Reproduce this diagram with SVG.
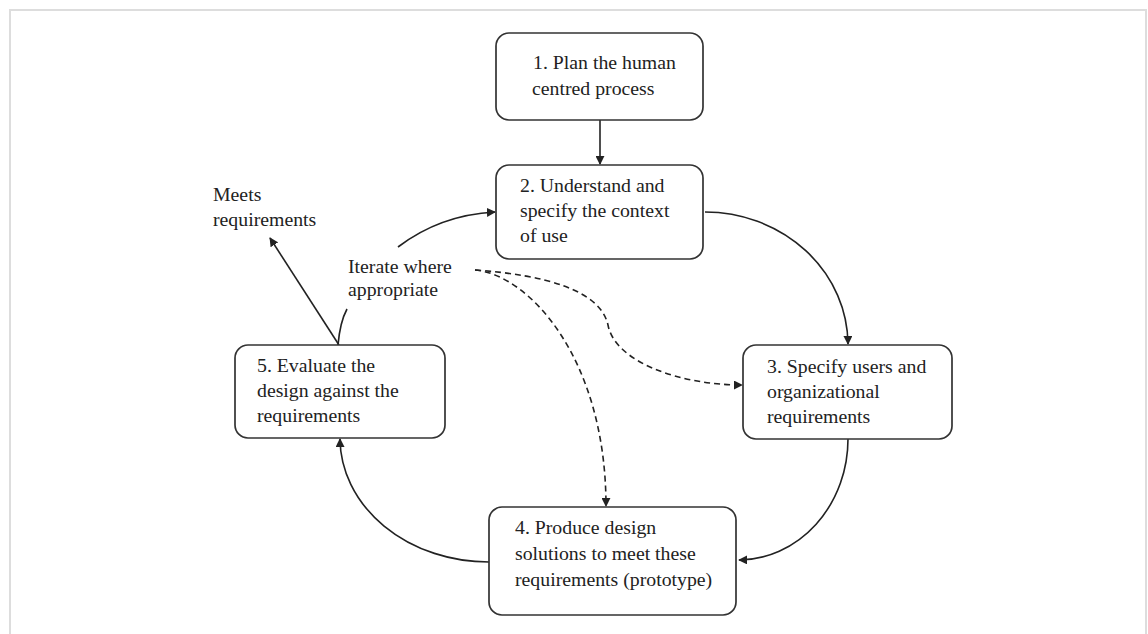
<svg xmlns="http://www.w3.org/2000/svg" width="1148" height="634" viewBox="0 0 1148 634">
  <defs>
    <style>
      .box { fill: #ffffff; stroke: #333333; stroke-width: 1.7; }
      .lbl { font-family: "Liberation Serif", "Times New Roman", Tinos, serif; font-size: 19.8px; fill: #222222; }
      .edge { fill: none; stroke: #222222; stroke-width: 1.6; }
      .dash { stroke-dasharray: 6 4; }
    </style>
    <marker id="arrow" viewBox="0 0 10 10" refX="9" refY="5" markerWidth="9" markerHeight="9" markerUnits="userSpaceOnUse" orient="auto">
      <path d="M0,0 L10,5 L0,10 z" fill="#222222"/>
    </marker>
  </defs>

  <rect x="0" y="0" width="1148" height="634" fill="#ffffff"/>
  <!-- outer frame -->
  <rect x="10" y="10" width="1136" height="640" fill="none" stroke="#dddddd" stroke-width="2"/>

  <g id="connectors">
    <line class="edge" x1="600" y1="120" x2="600" y2="164" marker-end="url(#arrow)"/>
    <path class="edge" d="M705,212 A143,133 0 0 1 848,344" marker-end="url(#arrow)"/>
    <path class="edge" d="M848,439 A110,121 0 0 1 739,560" marker-end="url(#arrow)"/>
    <path class="edge" d="M489,562 A149,124 0 0 1 340,439" marker-end="url(#arrow)"/>
    <line class="edge" x1="339" y1="345" x2="270" y2="238" marker-end="url(#arrow)"/>
    <path class="edge" d="M338,345 Q340,322 347,309"/>
    <path class="edge" d="M398,247 Q440,215 495,212" marker-end="url(#arrow)"/>
    <path class="edge dash" d="M475,270 C545,275 600,290 608,325 C615,362 680,385 742,385" marker-end="url(#arrow)"/>
    <path class="edge dash" d="M475,270 C530,275 606,360 606,506" marker-end="url(#arrow)"/>
  </g>

  <g id="node1">
    <rect class="box" x="496" y="33" width="207" height="87" rx="13"/>
    <text class="lbl" x="533" y="69">1. Plan the human</text>
    <text class="lbl" x="532" y="95">centred process</text>
  </g>

  <g id="node2">
    <rect class="box" x="496" y="165" width="207" height="94" rx="13"/>
    <text class="lbl" x="520" y="192">2. Understand and</text>
    <text class="lbl" x="520" y="217">specify the context</text>
    <text class="lbl" x="520" y="242">of use</text>
  </g>

  <g id="node3">
    <rect class="box" x="743" y="345" width="209" height="94" rx="13"/>
    <text class="lbl" x="767" y="373">3. Specify users and</text>
    <text class="lbl" x="767" y="398">organizational</text>
    <text class="lbl" x="767" y="423">requirements</text>
  </g>

  <g id="node4">
    <rect class="box" x="489" y="507" width="247" height="108" rx="13"/>
    <text class="lbl" x="515" y="534">4. Produce design</text>
    <text class="lbl" x="515" y="560">solutions to meet these</text>
    <text class="lbl" x="515" y="586">requirements (prototype)</text>
  </g>

  <g id="node5">
    <rect class="box" x="235" y="345" width="210" height="93" rx="13"/>
    <text class="lbl" x="257" y="372">5. Evaluate the</text>
    <text class="lbl" x="257" y="397">design against the</text>
    <text class="lbl" x="257" y="422">requirements</text>
  </g>

  <g id="label-meets">
    <text class="lbl" x="213" y="201">Meets</text>
    <text class="lbl" x="213" y="226">requirements</text>
  </g>

  <g id="label-iterate">
    <text class="lbl" x="348" y="273">Iterate where</text>
    <text class="lbl" x="348" y="296">appropriate</text>
  </g>
</svg>
